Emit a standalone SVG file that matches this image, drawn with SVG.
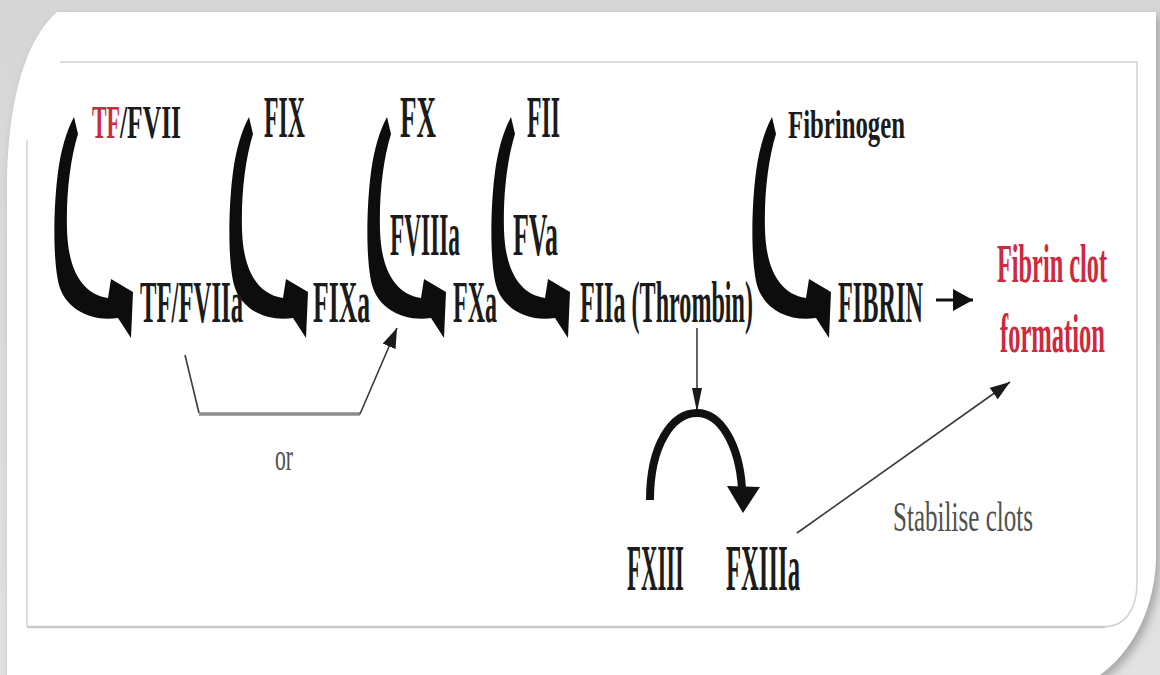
<svg xmlns="http://www.w3.org/2000/svg" xmlns:xlink="http://www.w3.org/1999/xlink" width="1160" height="675" viewBox="0 0 1160 675">
  <defs>
    <style>
      .lbl { font-family: "Liberation Serif", "Times New Roman", serif; font-weight: bold; fill: #1b1b1b; }
      .red { fill: #cc2a3e; }
      .note { font-family: "Liberation Serif", "Times New Roman", serif; font-weight: normal; fill: #505050; }
      .thin { fill: none; stroke: #3a3a3a; stroke-width: 1.6; }
      .frame { fill: none; stroke: #d2d2d2; stroke-width: 1.5; }
    </style>
    <linearGradient id="bg" x1="0" y1="0" x2="0" y2="1">
      <stop offset="0" stop-color="#d6d6d6"/>
      <stop offset="1" stop-color="#e2e2e2"/>
    </linearGradient>
    <filter id="soft" x="-5%" y="-5%" width="110%" height="110%">
      <feGaussianBlur stdDeviation="4"/>
    </filter>
    <!-- thick calligraphic curved arrow, drawn at the first position -->
    <path id="swoop" d="M 74 117 L 78 134 C 70 160, 66 195, 67 230 C 68 266, 80 294, 108 298 L 111 279 L 133 292 L 131 338 L 118 318 C 92 322, 66 310, 59 285 C 53 262, 53 210, 58 172 C 61 150, 66 132, 74 117 Z" fill="#0d0d0d"/>
    <marker id="head" viewBox="0 0 20 14" refX="20" refY="7" markerWidth="20" markerHeight="14" markerUnits="userSpaceOnUse" orient="auto">
      <path d="M0 0 L20 7 L0 14 Z" fill="#1a1a1a"/>
    </marker>
    <marker id="headNarrow" viewBox="0 0 24 10" refX="24" refY="5" markerWidth="24" markerHeight="10" markerUnits="userSpaceOnUse" orient="auto">
      <path d="M0 0 L24 5 L0 10 Z" fill="#1a1a1a"/>
    </marker>
    <marker id="headBold" viewBox="0 0 20 22" refX="20" refY="11" markerWidth="20" markerHeight="22" markerUnits="userSpaceOnUse" orient="auto">
      <path d="M0 0 L20 11 L0 22 Z" fill="#111"/>
    </marker>
  </defs>

  <!-- page background and card -->
  <rect x="0" y="0" width="1160" height="675" fill="url(#bg)"/>
  <path d="M 60 16 L 1160 16 L 1160 565 C 1158 620, 1132 660, 1104 680 L 10 680 L 10 178 C 12 103, 28 43, 60 16 Z" fill="#a8a8a8" filter="url(#soft)"/>
  <path d="M 57 12 L 1156 12 L 1156 560 C 1154 615, 1128 655, 1100 675 L 7 675 L 7 175 C 9 100, 25 40, 57 12 Z" fill="#ffffff"/>
  <path class="frame" d="M 60 62 L 1137 62 L 1137 582 C 1137 610, 1125 627, 1103 627"/>
  <path class="frame" d="M 27 140 L 27 627"/>
  <line x1="27" y1="627" x2="1105" y2="627" stroke="#c8c8c8" stroke-width="2.5"/>

  <!-- connectors -->
  <g id="connectors">
    <use xlink:href="#swoop"/>
    <use xlink:href="#swoop" x="175"/>
    <use xlink:href="#swoop" x="313"/>
    <use xlink:href="#swoop" x="437"/>
    <use xlink:href="#swoop" x="698"/>
    <!-- "or" bypass: TF/FVIIa straight to FXa -->
    <polyline points="185,355 199,413" class="thin" stroke="#555"/>
    <line x1="199" y1="414" x2="360" y2="414" stroke="#8c8c8c" stroke-width="3.5"/>
    <polyline points="360,414 397,328" class="thin" marker-end="url(#head)"/>
    <!-- thrombin activates FXIII -->
    <line x1="697" y1="328" x2="697" y2="412" class="thin" stroke-width="1.4" marker-end="url(#headNarrow)"/>
    <path d="M 650 500 C 650 445, 672 413, 697 413 C 721 413, 739 445, 742 488" fill="none" stroke="#111" stroke-width="8"/>
    <polygon points="727,486 760,487 743,513" fill="#111"/>
    <!-- FXIIIa stabilises clot -->
    <line x1="797" y1="533" x2="1010" y2="382" class="thin" stroke="#444" stroke-width="1.5" marker-end="url(#head)"/>
    <!-- FIBRIN to clot -->
    <line x1="936" y1="300" x2="973" y2="300" stroke="#111" stroke-width="3" marker-end="url(#headBold)"/>
  </g>

  <!-- nodes -->
  <g id="tf-fvii">
    <text class="lbl red" x="92" y="138" font-size="47" textLength="28" lengthAdjust="spacingAndGlyphs">TF</text>
    <text class="lbl" x="120" y="138" font-size="47" textLength="61" lengthAdjust="spacingAndGlyphs">/FVII</text>
  </g>
  <g id="fix"><text class="lbl" x="264" y="137" font-size="60" textLength="41" lengthAdjust="spacingAndGlyphs">FIX</text></g>
  <g id="fx"><text class="lbl" x="400" y="137" font-size="60" textLength="36" lengthAdjust="spacingAndGlyphs">FX</text></g>
  <g id="fii"><text class="lbl" x="527" y="137" font-size="60" textLength="33" lengthAdjust="spacingAndGlyphs">FII</text></g>
  <g id="fibrinogen"><text class="lbl" x="788" y="138" font-size="40" textLength="117" lengthAdjust="spacingAndGlyphs">Fibrinogen</text></g>

  <g id="fviiia"><text class="lbl" x="390" y="255" font-size="62" textLength="70" lengthAdjust="spacingAndGlyphs">FVIIIa</text></g>
  <g id="fva"><text class="lbl" x="513" y="255" font-size="62" textLength="45" lengthAdjust="spacingAndGlyphs">FVa</text></g>

  <g id="tf-fviia"><text class="lbl" x="140" y="322" font-size="59" textLength="103" lengthAdjust="spacingAndGlyphs">TF/FVIIa</text></g>
  <g id="fixa"><text class="lbl" x="313" y="322" font-size="59" textLength="57" lengthAdjust="spacingAndGlyphs">FIXa</text></g>
  <g id="fxa"><text class="lbl" x="453" y="322" font-size="59" textLength="44" lengthAdjust="spacingAndGlyphs">FXa</text></g>
  <g id="fiia"><text class="lbl" x="580" y="322" font-size="59" textLength="173" lengthAdjust="spacingAndGlyphs">FIIa (Thrombin)</text></g>
  <g id="fibrin"><text class="lbl" x="838" y="322" font-size="59" textLength="85" lengthAdjust="spacingAndGlyphs">FIBRIN</text></g>

  <g id="clot">
    <text class="lbl red" x="997" y="282" font-size="54" textLength="110" lengthAdjust="spacingAndGlyphs">Fibrin clot</text>
    <text class="lbl red" x="1000" y="352" font-size="55" textLength="105" lengthAdjust="spacingAndGlyphs">formation</text>
  </g>

  <g id="or-label"><text class="note" x="275" y="470" font-size="37" textLength="18" lengthAdjust="spacingAndGlyphs">or</text></g>

  <g id="fxiii"><text class="lbl" x="627" y="590" font-size="66" textLength="57" lengthAdjust="spacingAndGlyphs">FXIII</text></g>
  <g id="fxiiia"><text class="lbl" x="726" y="590" font-size="66" textLength="74" lengthAdjust="spacingAndGlyphs">FXIIIa</text></g>

  <g id="stabilise"><text class="note" x="893" y="531" font-size="42" textLength="140" lengthAdjust="spacingAndGlyphs">Stabilise clots</text></g>
</svg>
